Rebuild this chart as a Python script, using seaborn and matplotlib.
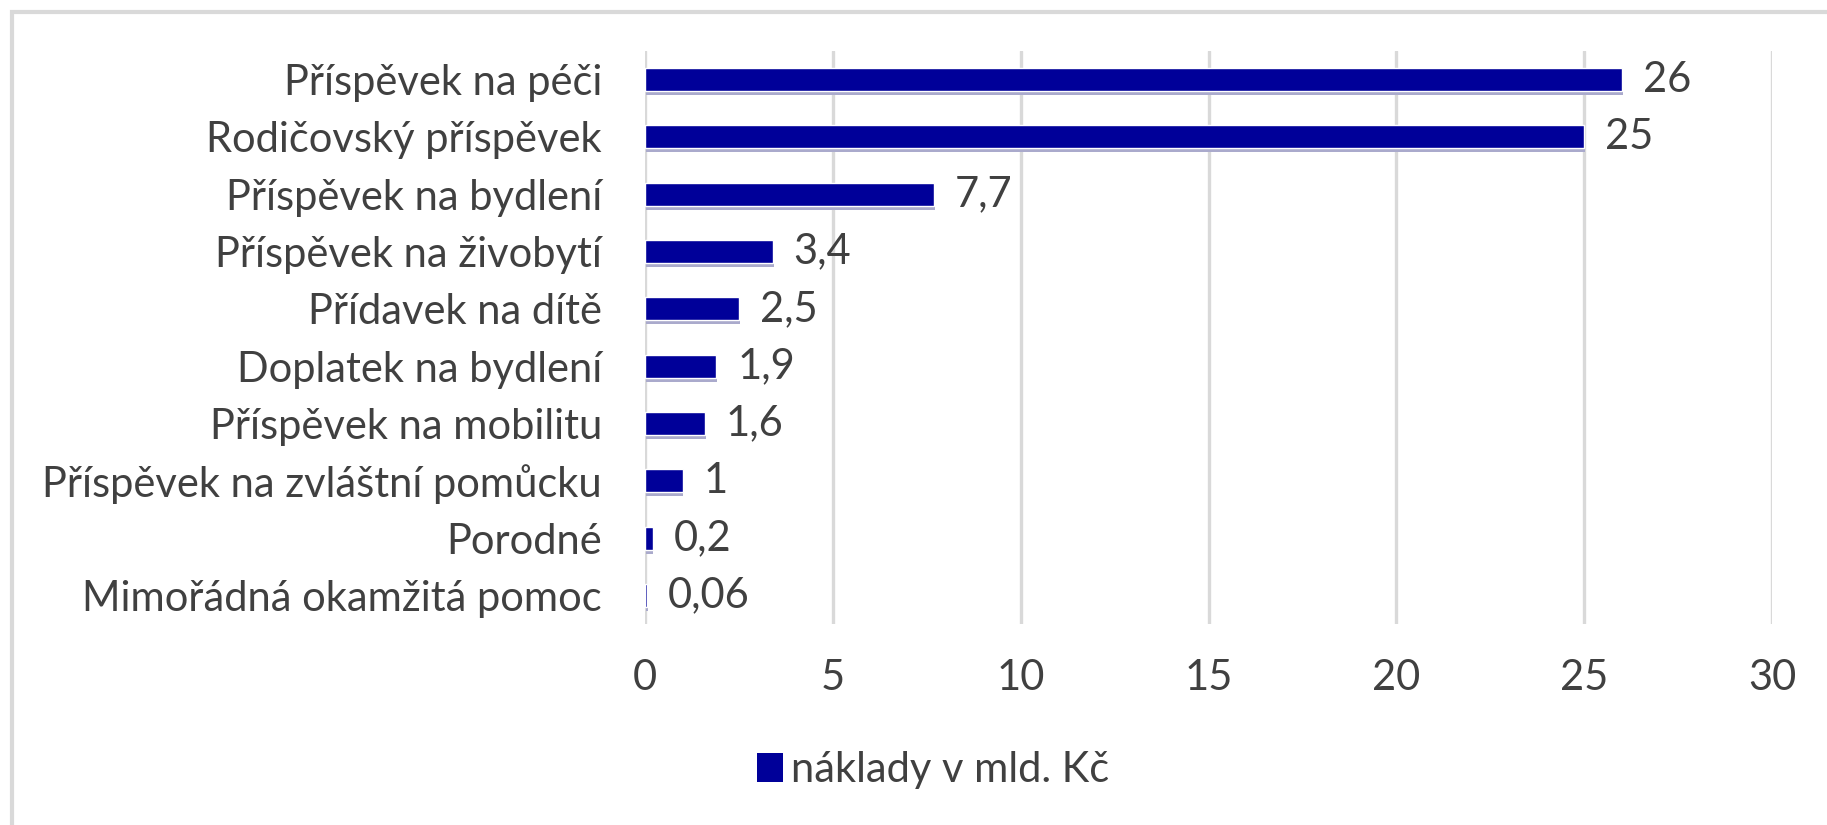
import matplotlib
matplotlib.use("Agg")
import matplotlib.pyplot as plt
import matplotlib.patheffects as pe
from matplotlib.patches import Rectangle, Patch
import seaborn as sns
import pandas as pd

categories = [
    "Příspěvek na péči",
    "Rodičovský příspěvek",
    "Příspěvek na bydlení",
    "Příspěvek na živobytí",
    "Přídavek na dítě",
    "Doplatek na bydlení",
    "Příspěvek na mobilitu",
    "Příspěvek na zvláštní pomůcku",
    "Porodné",
    "Mimořádná okamžitá pomoc",
]
values = [26, 25, 7.7, 3.4, 2.5, 1.9, 1.6, 1, 0.2, 0.06]
value_labels = ["26", "25", "7,7", "3,4", "2,5", "1,9", "1,6", "1", "0,2", "0,06"]
series_name = "náklady v mld. Kč"
x_ticks = [0, 5, 10, 15, 20, 25, 30]

df = pd.DataFrame({"kategorie": categories, "hodnota": values})

sns.set_theme(style="white")
plt.rcParams["font.family"] = ["Lato", "DejaVu Sans"]

text_color = "#404040"
bar_color = "#000099"
grid_color = "#d9d9d9"
fs = 30

fig = plt.figure(figsize=(18.27, 8.25), dpi=100)
ax = fig.add_axes([645 / 1827, 1 - 624 / 825, (1772 - 645) / 1827, (624 - 51) / 825])

sns.barplot(data=df, y="kategorie", x="hodnota", orient="h", color=bar_color,
            width=0.4, saturation=1, ax=ax, zorder=3)

for p in ax.patches:
    p.set_path_effects([pe.SimplePatchShadow(offset=(0.6, -2.9), shadow_rgbFace="#aaaacc", alpha=1.0),
                        pe.Normal()])

ax.bar_label(ax.containers[0], labels=value_labels, padding=15, fontsize=fs, color=text_color)

ax.set_xlim(0, 30)
ax.set_xticks(x_ticks)
ax.set_xticklabels([str(t) for t in x_ticks])
ax.set_ylim(len(categories) - 0.5, -0.5)
ax.xaxis.grid(True, color=grid_color, linewidth=2.4, zorder=0)
ax.yaxis.grid(False)
ax.set_axisbelow(True)
for s in ax.spines.values():
    s.set_visible(False)
ax.tick_params(axis="x", length=0, pad=25, labelsize=fs, labelcolor=text_color)
ax.tick_params(axis="y", length=0, pad=31, labelsize=fs, labelcolor=text_color)
ax.set_xlabel("")
ax.set_ylabel("")

handles = [Patch(facecolor=bar_color, edgecolor="none")]
fig.legend(handles, [series_name], loc="center", bbox_to_anchor=(933 / 1827, 1 - 770 / 825),
           frameon=False, fontsize=fs, labelcolor=text_color, handlelength=0.62,
           handleheight=0.68, handletextpad=0.2)

fig.patches.append(Rectangle((12 / 1827, -0.2), 1.2, 1.2 - 12 / 825,
                             transform=fig.transFigure, fill=False,
                             edgecolor=grid_color, linewidth=3))

fig.savefig("out.png", dpi=100, facecolor="white")
